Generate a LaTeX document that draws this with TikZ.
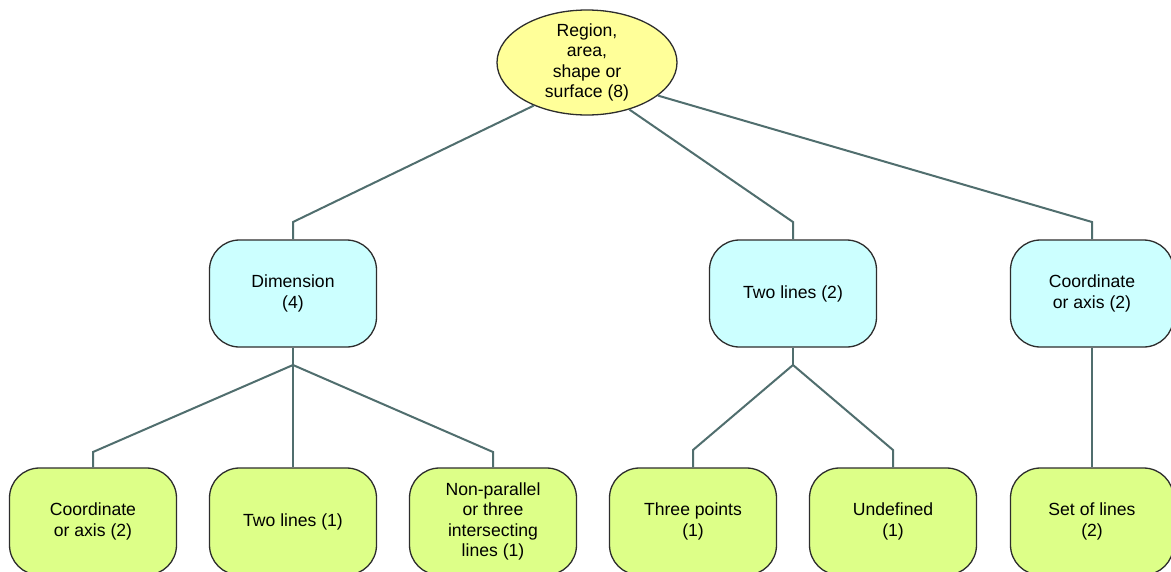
\documentclass[tikz,border=0pt]{standalone}
\usepackage{fontspec}
\setmainfont{Liberation Sans}
\usetikzlibrary{shapes.geometric}
\definecolor{ellfill}{RGB}{255,255,153}
\definecolor{cyanfill}{RGB}{204,255,255}
\definecolor{greenfill}{RGB}{221,255,136}
\definecolor{bordercol}{RGB}{45,45,45}
\definecolor{conncol}{RGB}{80,110,110}
\begin{document}
\begin{tikzpicture}[x=1pt,y=-1pt,
  every node/.style={font=\fontsize{17.6}{20.5}\selectfont, align=center, text=black},
  rootnode/.style={ellipse, draw=bordercol, line width=1.3pt, fill=ellfill,
    minimum width=180pt, minimum height=105pt, inner sep=-2pt},
  midbox/.style={rectangle, rounded corners=30pt, draw=bordercol, line width=1.3pt,
    fill=cyanfill, minimum width=167pt, minimum height=107pt, inner sep=2pt},
  leafbox/.style={rectangle, rounded corners=30pt, draw=bordercol, line width=1.3pt,
    fill=greenfill, minimum width=167pt, minimum height=107pt, inner sep=2pt},
  conn/.style={draw=conncol, line width=2pt}]
\useasboundingbox (0,0) rectangle (1171,571);
\fill[white] (0,0) rectangle (1171,571);

% elbow points of the connectors
\coordinate (e1) at (293,222);
\coordinate (e2) at (793,222);
\coordinate (e3) at (1092,222);
\coordinate (d0) at (293,365);
\coordinate (d1) at (93,452);
\coordinate (d3) at (493,452);
\coordinate (t0) at (793,365);
\coordinate (t1) at (693,450);
\coordinate (t2) at (893,450);

\node[rootnode] (root) at (587,62.5) {Region,\\area,\\shape or\\surface (8)};
\node[midbox] (dim) at (293,293.5) {Dimension\\(4)};
\node[midbox] (two) at (793,293.5) {Two lines (2)};
\node[midbox, minimum width=163pt] (coord) at (1092,293.5) {Coordinate\\or axis (2)};

\node[leafbox] (l1) at (93,521.5) {Coordinate\\or axis (2)};
\node[leafbox] (l2) at (293,521.5) {Two lines (1)};
\node[leafbox] (l3) at (493,521.5) {Non-parallel\\or three\\intersecting\\lines (1)};
\node[leafbox] (l4) at (693,521.5) {Three points\\(1)};
\node[leafbox] (l5) at (893,521.5) {Undefined\\(1)};
\node[leafbox, minimum width=163pt] (l6) at (1092,521.5) {Set of lines\\(2)};

\draw[conn] (root.-141) -- (e1) -- (dim.north);
\draw[conn] (root.-48) -- (e2) -- (two.north);
\draw[conn] (root.-25) -- (e3) -- (coord.north);

\draw[conn] (dim.south) -- (d0);
\draw[conn] (d0) -- (d1) -- (l1.north);
\draw[conn] (d0) -- (l2.north);
\draw[conn] (d0) -- (d3) -- (l3.north);

\draw[conn] (two.south) -- (t0);
\draw[conn] (t0) -- (t1) -- (l4.north);
\draw[conn] (t0) -- (t2) -- (l5.north);

\draw[conn] (coord.south) -- (l6.north);
\end{tikzpicture}
\end{document}
